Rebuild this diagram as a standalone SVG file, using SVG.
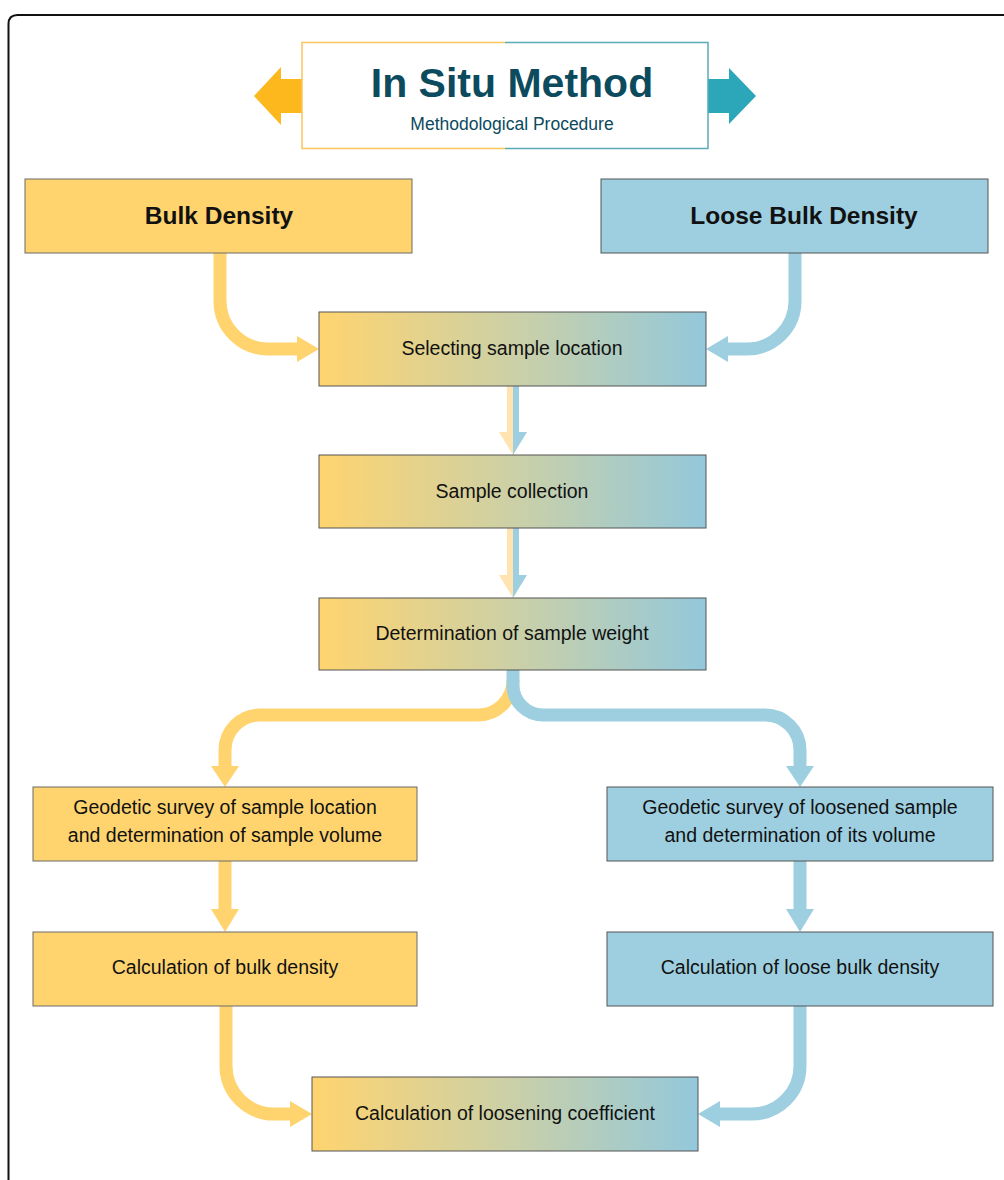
<svg xmlns="http://www.w3.org/2000/svg" width="1004" height="1180" viewBox="0 0 1004 1180">
<style>
.t{font-family:"Liberation Sans",Arial,sans-serif;fill:#111;text-anchor:middle}
.b{font-size:19.5px}
.h{font-size:24.5px;font-weight:bold}
.o{fill:#FFD46F;stroke:#6a6a6a;stroke-width:1}
.u{fill:#9ECFE0;stroke:#555;stroke-width:1}
.g{fill:url(#grad);stroke:#555;stroke-width:1}
.co{fill:none;stroke:#FFD36E;stroke-width:13}
.cb{fill:none;stroke:#9DCFE0;stroke-width:13}
.ho{fill:#FFD36E}
.hb{fill:#9DCFE0}
.lo{fill:#FFE3B0}
</style>
<defs>
<linearGradient id="grad" x1="0" y1="0" x2="1" y2="0">
<stop offset="0" stop-color="#FFD46F"/>
<stop offset="0.5" stop-color="#CCD0A6"/>
<stop offset="1" stop-color="#93C8DB"/>
</linearGradient>
</defs>
<rect width="1004" height="1180" fill="#fff"/>
<path d="M8.5 1180 V24 Q8.5 15 17.5 15 H1004" fill="none" stroke="#111" stroke-width="2"/>

<g id="title">
<polygon points="302,79 281,79 281,67 254,96 281,125 281,113 302,113" fill="#FDB81E"/>
<polygon points="708,79 729,79 729,68 756,96 729,124 729,113 708,113" fill="#2BA7B9"/>
<rect x="302" y="42.5" width="406" height="106" fill="#fff"/>
<path d="M505 42.5 H302 V148.5 H505" fill="none" stroke="#FBC55E" stroke-width="1.5"/>
<path d="M505 42.5 H708 V148.5 H505" fill="none" stroke="#5AAAB8" stroke-width="1.5"/>
<text x="512" y="97" class="t" style="font-size:41px;font-weight:bold;fill:#0C4A5E">In Situ Method</text>
<text x="512" y="130" class="t" style="font-size:17.5px;fill:#0C4A5E">Methodological Procedure</text>
</g>

<g id="connectors">
<path class="co" d="M220 253 V301 A48 48 0 0 0 268 349 H297"/>
<polygon class="ho" points="297,336 319,349 297,362"/>
<path class="cb" d="M795 253 V301 A48 48 0 0 1 747 349 H728"/>
<polygon class="hb" points="728,336 706,349 728,362"/>

<rect class="lo" x="507" y="386" width="6" height="46"/>
<rect class="hb" x="513" y="386" width="6" height="46"/>
<polygon class="lo" points="499,432 513,432 513,455"/>
<polygon class="hb" points="513,432 527,432 513,455"/>

<rect class="lo" x="507" y="528" width="6" height="47"/>
<rect class="hb" x="513" y="528" width="6" height="47"/>
<polygon class="lo" points="499,575 513,575 513,598"/>
<polygon class="hb" points="513,575 527,575 513,598"/>

<path class="co" d="M513 680 A35 35 0 0 1 478 715 H260 A35 35 0 0 0 225 750 V766"/>
<polygon class="ho" points="211,766 239,766 225,787"/>
<path class="cb" d="M513 670 V685 A30 30 0 0 0 543 715 H765 A35 35 0 0 1 800 750 V766"/>
<polygon class="hb" points="786,766 814,766 800,787"/>

<path class="co" d="M225 861 V909"/>
<polygon class="ho" points="211,909 239,909 225,932"/>
<path class="cb" d="M800 861 V909"/>
<polygon class="hb" points="786,909 814,909 800,932"/>

<path class="co" d="M226 1006 V1066 A48 48 0 0 0 274 1114 H290"/>
<polygon class="ho" points="290,1101 312,1114 290,1127"/>
<path class="cb" d="M800 1006 V1066 A48 48 0 0 1 752 1114 H720"/>
<polygon class="hb" points="720,1101 698,1114 720,1127"/>
</g>

<g id="bulk"><rect class="o" x="25" y="179" width="387" height="74"/><text class="t h" x="219" y="224">Bulk Density</text></g>
<g id="loose"><rect class="u" x="601" y="179" width="387" height="74"/><text class="t h" x="804" y="224">Loose Bulk Density</text></g>
<g id="select"><rect class="g" x="319" y="312" width="387" height="74"/><text class="t b" x="512" y="355">Selecting sample location</text></g>
<g id="collect"><rect class="g" x="319" y="455" width="387" height="73"/><text class="t b" x="512" y="498">Sample collection</text></g>
<g id="weight"><rect class="g" x="319" y="598" width="387" height="72"/><text class="t b" x="512" y="640">Determination of sample weight</text></g>
<g id="geoL"><rect class="o" x="33" y="787" width="384" height="74"/><text class="t b" x="225" y="814">Geodetic survey of sample location</text><text class="t b" x="225" y="842">and determination of sample volume</text></g>
<g id="geoR"><rect class="u" x="607" y="787" width="386" height="74"/><text class="t b" x="800" y="814">Geodetic survey of loosened sample</text><text class="t b" x="800" y="842">and determination of its volume</text></g>
<g id="calcL"><rect class="o" x="33" y="932" width="384" height="74"/><text class="t b" x="225" y="974">Calculation of bulk density</text></g>
<g id="calcR"><rect class="u" x="607" y="932" width="386" height="74"/><text class="t b" x="800" y="974">Calculation of loose bulk density</text></g>
<g id="coef"><rect class="g" x="312" y="1077" width="386" height="74"/><text class="t b" x="505" y="1120">Calculation of loosening coefficient</text></g>
</svg>
